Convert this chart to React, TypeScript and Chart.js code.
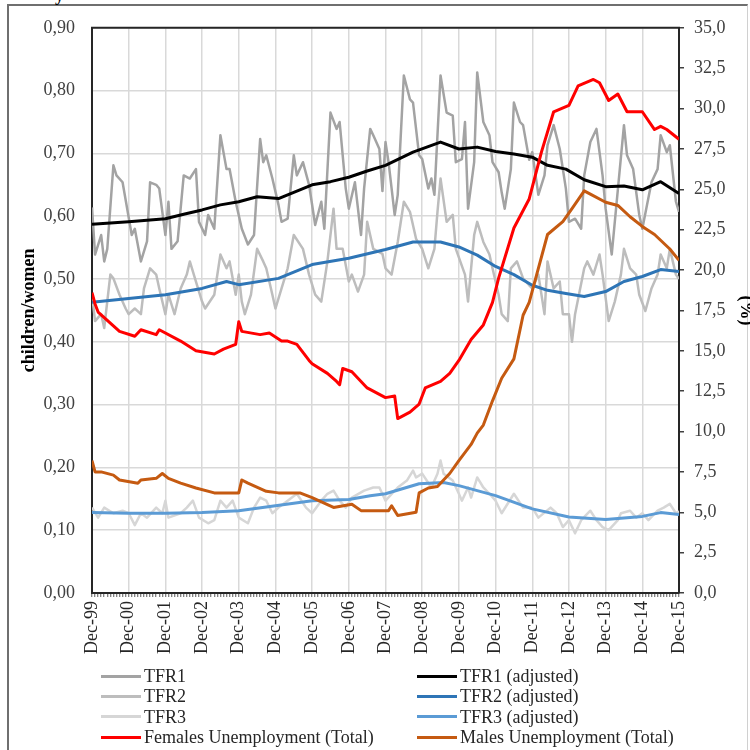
import React, { useEffect, useRef } from "react";
import { Chart, registerables } from "chart.js";

Chart.register(...registerables);

// ---------- data (month index counted from Dec-99) ----------
const X_TICK_LABELS = [
  "Dec-99", "Dec-00", "Dec-01", "Dec-02", "Dec-03", "Dec-04", "Dec-05", "Dec-06", "Dec-07",
  "Dec-08", "Dec-09", "Dec-10", "Dec-11", "Dec-12", "Dec-13", "Dec-14", "Dec-15",
];
const MONTHS_PER_LABEL = 12;
const LAST_MONTH = 192;

const TFR1: [number, number][] = [
  [0, 0.614], [1, 0.539], [3, 0.57], [4, 0.528], [5, 0.548], [7, 0.681], [8, 0.665], [10, 0.654],
  [13, 0.57], [14, 0.58], [16, 0.528], [18, 0.56], [19, 0.654], [21, 0.65], [22, 0.644], [24, 0.57],
  [25, 0.623], [26, 0.548], [28, 0.56], [30, 0.665], [32, 0.66], [34, 0.675], [35, 0.591], [37, 0.57],
  [38, 0.602], [40, 0.58], [42, 0.729], [44, 0.675], [45, 0.675], [47, 0.623], [49, 0.58], [51, 0.555],
  [53, 0.57], [55, 0.723], [56, 0.686], [57, 0.697], [59, 0.66], [61, 0.618], [62, 0.591], [64, 0.596],
  [66, 0.697], [67, 0.665], [69, 0.686], [71, 0.65], [73, 0.586], [75, 0.623], [76, 0.58], [78, 0.765],
  [80, 0.739], [81, 0.75], [83, 0.644], [84, 0.612], [86, 0.654], [88, 0.57], [89, 0.644], [91, 0.739],
  [92, 0.729], [94, 0.707], [95, 0.64], [96, 0.718], [97, 0.686], [99, 0.602], [100, 0.634], [102, 0.824],
  [104, 0.786], [105, 0.781], [107, 0.697], [108, 0.691], [110, 0.644], [111, 0.66], [112, 0.634],
  [114, 0.824], [116, 0.765], [118, 0.76], [119, 0.686], [121, 0.691], [122, 0.75], [123, 0.612],
  [125, 0.686], [126, 0.829], [128, 0.75], [130, 0.729], [131, 0.686], [133, 0.67], [134, 0.638],
  [135, 0.612], [137, 0.675], [138, 0.781], [140, 0.75], [141, 0.745], [143, 0.69], [144, 0.702],
  [146, 0.634], [148, 0.665], [149, 0.713], [151, 0.745], [153, 0.707], [155, 0.644], [156, 0.591],
  [158, 0.596], [160, 0.58], [161, 0.665], [163, 0.718], [165, 0.739], [167, 0.665], [168, 0.612],
  [170, 0.539], [171, 0.591], [174, 0.745], [175, 0.697], [177, 0.675], [179, 0.602], [180, 0.58],
  [183, 0.654], [185, 0.675], [186, 0.729], [188, 0.702], [189, 0.713], [191, 0.623], [192, 0.607],
];

const TFR2: [number, number][] = [
  [0, 0.475], [1, 0.433], [3, 0.444], [4, 0.422], [6, 0.507], [7, 0.501], [9, 0.475], [11, 0.453],
  [12, 0.444], [14, 0.453], [16, 0.444], [17, 0.485], [19, 0.517], [21, 0.507], [22, 0.485], [24, 0.444],
  [25, 0.475], [27, 0.444], [29, 0.485], [31, 0.507], [32, 0.528], [34, 0.496], [36, 0.464], [37, 0.453],
  [40, 0.475], [42, 0.539], [44, 0.517], [45, 0.528], [47, 0.475], [48, 0.507], [49, 0.464], [50, 0.444],
  [52, 0.475], [54, 0.548], [56, 0.528], [57, 0.517], [59, 0.475], [60, 0.453], [62, 0.485], [64, 0.517],
  [66, 0.57], [69, 0.548], [71, 0.507], [73, 0.475], [75, 0.464], [77, 0.528], [79, 0.612], [80, 0.548],
  [82, 0.548], [84, 0.496], [85, 0.507], [87, 0.48], [89, 0.507], [90, 0.591], [92, 0.548], [95, 0.54],
  [96, 0.517], [98, 0.507], [100, 0.559], [102, 0.623], [104, 0.607], [106, 0.564], [108, 0.548],
  [110, 0.517], [112, 0.548], [113, 0.607], [114, 0.66], [116, 0.591], [118, 0.602], [119, 0.548],
  [122, 0.507], [123, 0.464], [125, 0.57], [126, 0.591], [128, 0.559], [130, 0.539], [131, 0.517],
  [133, 0.475], [134, 0.444], [136, 0.433], [137, 0.517], [139, 0.528], [141, 0.501], [143, 0.49],
  [144, 0.485], [146, 0.507], [148, 0.444], [149, 0.528], [151, 0.485], [153, 0.496], [154, 0.444],
  [156, 0.444], [157, 0.4], [158, 0.444], [161, 0.517], [162, 0.528], [164, 0.507], [166, 0.539],
  [167, 0.507], [169, 0.433], [171, 0.464], [173, 0.507], [174, 0.548], [176, 0.517], [178, 0.507],
  [179, 0.475], [181, 0.449], [183, 0.485], [185, 0.507], [186, 0.539], [188, 0.517], [189, 0.548],
  [191, 0.507], [192, 0.5],
];

const TFR3: [number, number][] = [
  [0, 0.136], [2, 0.12], [4, 0.136], [7, 0.127], [10, 0.131], [12, 0.127], [14, 0.108], [16, 0.127],
  [18, 0.12], [21, 0.136], [23, 0.127], [24, 0.147], [25, 0.12], [29, 0.127], [31, 0.136], [33, 0.147],
  [35, 0.12], [38, 0.111], [40, 0.116], [42, 0.147], [44, 0.136], [46, 0.147], [48, 0.12], [51, 0.111],
  [53, 0.136], [55, 0.152], [57, 0.147], [59, 0.127], [61, 0.136], [64, 0.147], [67, 0.158], [70, 0.136],
  [72, 0.127], [75, 0.147], [77, 0.158], [79, 0.163], [81, 0.147], [83, 0.136], [85, 0.152], [89, 0.163],
  [92, 0.168], [94, 0.168], [96, 0.147], [100, 0.168], [103, 0.179], [105, 0.195], [106, 0.184],
  [108, 0.19], [111, 0.168], [113, 0.19], [114, 0.211], [115, 0.19], [118, 0.179], [120, 0.158],
  [121, 0.147], [123, 0.168], [124, 0.152], [126, 0.184], [128, 0.168], [130, 0.158], [132, 0.147],
  [134, 0.127], [138, 0.158], [141, 0.136], [144, 0.136], [146, 0.12], [150, 0.136], [152, 0.127],
  [154, 0.105], [156, 0.116], [158, 0.095], [160, 0.116], [163, 0.131], [165, 0.116], [167, 0.105],
  [169, 0.1], [172, 0.116], [173, 0.127], [176, 0.131], [178, 0.12], [180, 0.127], [182, 0.116],
  [185, 0.131], [187, 0.136], [189, 0.142], [191, 0.127], [192, 0.13],
];

const TFR1_ADJ: [number, number][] = [
  [0, 0.587], [12, 0.591], [24, 0.596], [30, 0.603], [36, 0.61], [42, 0.618], [48, 0.623], [54, 0.631],
  [61, 0.628], [66, 0.638], [72, 0.65], [78, 0.655], [84, 0.662], [90, 0.672], [96, 0.681], [105, 0.702],
  [114, 0.718], [120, 0.707], [126, 0.71], [132, 0.703], [138, 0.699], [144, 0.694], [149, 0.681],
  [155, 0.675], [161, 0.658], [168, 0.647], [174, 0.648], [180, 0.642], [186, 0.655], [192, 0.636],
];

const TFR2_ADJ: [number, number][] = [
  [0, 0.463], [12, 0.469], [24, 0.475], [36, 0.485], [44, 0.496], [48, 0.491], [61, 0.501], [72, 0.523],
  [84, 0.533], [96, 0.547], [105, 0.559], [114, 0.559], [120, 0.551], [126, 0.538], [132, 0.52],
  [138, 0.507], [144, 0.49], [149, 0.482], [155, 0.477], [161, 0.472], [168, 0.48], [174, 0.496],
  [180, 0.504], [186, 0.515], [192, 0.512],
];

const TFR3_ADJ: [number, number][] = [
  [0, 0.128], [12, 0.127], [24, 0.127], [36, 0.128], [48, 0.131], [60, 0.139], [72, 0.147], [84, 0.149],
  [91, 0.155], [96, 0.158], [107, 0.174], [115, 0.176], [120, 0.171], [132, 0.155], [144, 0.134],
  [156, 0.121], [168, 0.117], [180, 0.122], [186, 0.128], [192, 0.125],
];

const FEMALES_UNEMP: [number, number][] = [
  [0, 18.6], [1, 17.9], [2, 17.4], [9, 16.2], [14, 15.9], [16, 16.3], [21, 16.0], [22, 16.3], [29, 15.6],
  [34, 15.0], [40, 14.8], [43, 15.1], [47, 15.4], [48, 16.8], [49, 16.2], [55, 16.0], [58, 16.1],
  [62, 15.6], [64, 15.6], [67, 15.4], [71, 14.4], [72, 14.2], [77, 13.6], [80, 13.1], [81, 12.9],
  [82, 13.9], [85, 13.7], [90, 12.7], [94, 12.3], [96, 12.1], [99, 12.2], [100, 10.8], [104, 11.2],
  [107, 11.7], [109, 12.7], [114, 13.1], [117, 13.6], [120, 14.4], [124, 15.7], [128, 16.6], [131, 18.0],
  [133, 19.5], [138, 22.6], [143, 24.4], [147, 27.3], [151, 29.8], [156, 30.2], [159, 31.4], [164, 31.8],
  [166, 31.6], [169, 30.5], [172, 30.9], [175, 29.8], [180, 29.8], [184, 28.7], [186, 28.9], [188, 28.7],
  [192, 28.1],
];

const MALES_UNEMP: [number, number][] = [
  [0, 8.2], [1, 7.5], [3, 7.5], [7, 7.3], [9, 7.0], [15, 6.8], [16, 7.0], [21, 7.1], [23, 7.4], [25, 7.1],
  [29, 6.8], [34, 6.5], [40, 6.2], [46, 6.2], [48, 6.2], [49, 7.0], [51, 6.8], [57, 6.3], [61, 6.2],
  [68, 6.2], [72, 5.9], [79, 5.3], [85, 5.5], [88, 5.1], [94, 5.1], [97, 5.1], [98, 5.4], [100, 4.8],
  [106, 5.0], [107, 6.2], [110, 6.5], [113, 6.6], [117, 7.4], [120, 8.2], [124, 9.2], [126, 9.9],
  [128, 10.4], [131, 11.9], [134, 13.3], [138, 14.5], [141, 17.2], [143, 18.0], [146, 20.1], [149, 22.2],
  [154, 23.0], [157, 23.8], [161, 24.9], [163, 24.7], [168, 24.2], [172, 24.0], [176, 23.3], [180, 22.7],
  [184, 22.2], [189, 21.3], [192, 20.6],
];

// ---------- styling ----------
const FONT = '"Liberation Serif", "Times New Roman", serif';

type Series = { label: string; data: [number, number][]; color: string; axis: "y" | "y2"; width: number; order: number };

const SERIES: Series[] = [
  { label: "TFR1", data: TFR1, color: "#a3a3a3", axis: "y", width: 2.5, order: 6 },
  { label: "TFR1 (adjusted)", data: TFR1_ADJ, color: "#000000", axis: "y", width: 3, order: 2 },
  { label: "TFR2", data: TFR2, color: "#bdbdbd", axis: "y", width: 2.5, order: 5 },
  { label: "TFR2 (adjusted)", data: TFR2_ADJ, color: "#2e75b6", axis: "y", width: 3, order: 3 },
  { label: "TFR3", data: TFR3, color: "#d6d6d6", axis: "y", width: 2.5, order: 7 },
  { label: "TFR3 (adjusted)", data: TFR3_ADJ, color: "#5b9bd5", axis: "y", width: 3, order: 4 },
  { label: "Females Unemployment (Total)", data: FEMALES_UNEMP, color: "#ff0000", axis: "y2", width: 3, order: 1 },
  { label: "Males Unemployment (Total)", data: MALES_UNEMP, color: "#c55a11", axis: "y2", width: 3, order: 0 },
];

const topBorderPlugin = {
  id: "topBorder",
  afterDraw(chart: any) {
    const { ctx, chartArea } = chart;
    ctx.save();
    ctx.strokeStyle = "#262626";
    ctx.lineWidth = 2;
    ctx.beginPath();
    ctx.moveTo(chartArea.left - 1, chartArea.top);
    ctx.lineTo(chartArea.right + 1, chartArea.top);
    ctx.stroke();
    ctx.restore();
  },
};

function ChartCanvas() {
  const ref = useRef<HTMLCanvasElement>(null);
  useEffect(() => {
    if (!ref.current) return;
    const chart = new Chart(ref.current, {
      type: "line",
      data: {
        datasets: SERIES.map((s) => ({
          label: s.label,
          data: s.data.map(([x, y]) => ({ x, y })),
          borderColor: s.color,
          backgroundColor: s.color,
          borderWidth: s.width,
          pointRadius: 0,
          tension: 0,
          yAxisID: s.axis,
          order: s.order,
          borderJoinStyle: "round" as const,
        })),
      },
      options: {
        animation: false,
        responsive: false,
        devicePixelRatio: 1,
        layout: { padding: { left: 15, right: 0, top: 25, bottom: 92 } },
        plugins: { legend: { display: false }, tooltip: { enabled: false } },
        scales: {
          x: {
            type: "linear",
            min: 0,
            max: LAST_MONTH,
            ticks: {
              stepSize: 1,
              autoSkip: false,
              minRotation: 90,
              maxRotation: 90,
              padding: 4,
              color: "#262626",
              font: { family: FONT, size: 18 },
              callback: (v: any) => (Number(v) % MONTHS_PER_LABEL === 0 ? X_TICK_LABELS[Number(v) / MONTHS_PER_LABEL] : ""),
            },
            grid: {
              color: (c: any) => (c.tick && c.tick.value % MONTHS_PER_LABEL === 0 ? "#d9d9d9" : "rgba(0,0,0,0)"),
              lineWidth: 1.5,
              drawTicks: true,
              tickLength: 4,
              tickColor: "#595959",
              tickWidth: 1,
            },
            border: { color: "#262626", width: 2 },
            afterFit: (s: any) => { s.height = 65; },
          },
          y: {
            position: "left",
            min: 0,
            max: 0.9,
            ticks: {
              stepSize: 0.1,
              padding: 17,
              color: "#404040",
              font: { family: FONT, size: 18 },
              callback: (v: any) => Number(v).toFixed(2).replace(".", ","),
            },
            grid: { color: "#d9d9d9", lineWidth: 1.5, drawTicks: false },
            border: { color: "#262626", width: 2 },
            title: {
              display: true,
              text: "children/women",
              color: "#000",
              font: { family: FONT, size: 18, weight: "bold" },
              padding: { top: 4, bottom: 0 },
            },
            afterFit: (s: any) => { s.width = 77; },
          },
          y2: {
            position: "right",
            min: 0,
            max: 35,
            ticks: {
              stepSize: 2.5,
              padding: 10,
              color: "#404040",
              font: { family: FONT, size: 18 },
              callback: (v: any) => Number(v).toFixed(1).replace(".", ","),
            },
            grid: { drawOnChartArea: false, drawTicks: true, tickLength: 5, color: "#404040", lineWidth: 1.5 },
            border: { color: "#262626", width: 2 },
            title: {
              display: true,
              text: "(%)",
              color: "#000",
              font: { family: FONT, size: 18, weight: "bold" },
              padding: { top: 4, bottom: 0 },
            },
            afterFit: (s: any) => { s.width = 81; },
          },
        },
      },
      plugins: [topBorderPlugin],
    });
    return () => chart.destroy();
  }, []);
  return <canvas ref={ref} width={760} height={750} style={{ position: "absolute", left: 0, top: 0 }} />;
}

const LEGEND_LEFT = [SERIES[0], SERIES[2], SERIES[4], SERIES[6]];
const LEGEND_RIGHT = [SERIES[1], SERIES[3], SERIES[5], SERIES[7]];

function LegendColumn({ items, left }: { items: Series[]; left: number }) {
  return (
    <div style={{ position: "absolute", left, top: 666 }}>
      {items.map((s) => (
        <div key={s.label} style={{ display: "flex", alignItems: "center", height: 20.3 }}>
          <span style={{ display: "inline-block", width: 40, height: 3, background: s.color, marginRight: 3 }} />
          <span style={{ fontFamily: FONT, fontSize: 18, color: "#262626", whiteSpace: "nowrap", lineHeight: "20px" }}>{s.label}</span>
        </div>
      ))}
    </div>
  );
}

export default function App() {
  return (
    <div style={{ position: "fixed", left: 0, top: 0, width: 750, height: 750, overflow: "hidden", background: "#fff" }}>
      <div style={{ position: "absolute", left: 7, top: 4, width: 738, height: 800, borderTop: "2px solid #6f6f6f", borderLeft: "2px solid #6f6f6f", borderRight: "1px solid #d0d0d0" }} />
      <div style={{ position: "absolute", left: 55, top: -14, fontFamily: FONT, fontWeight: "bold", fontSize: 18, lineHeight: "18px" }}>y</div>
      <ChartCanvas />
      <LegendColumn items={LEGEND_LEFT} left={101} />
      <LegendColumn items={LEGEND_RIGHT} left={417} />
    </div>
  );
}
